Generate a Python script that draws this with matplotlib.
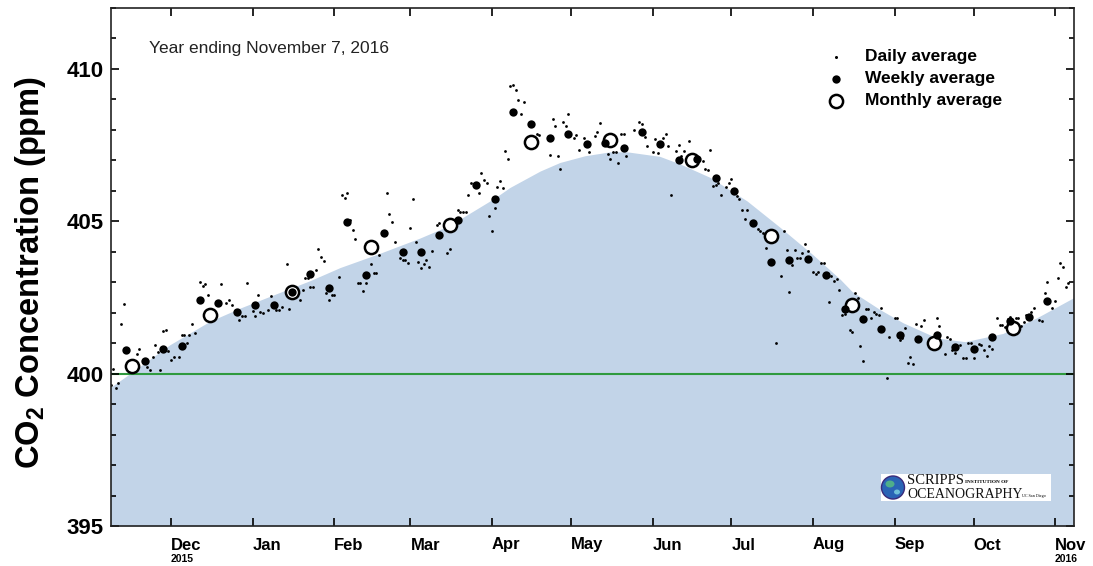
import numpy as np
import matplotlib
matplotlib.use("Agg")
import matplotlib.pyplot as plt
from matplotlib.patches import Rectangle, Ellipse
from matplotlib.lines import Line2D

plt.rcParams["font.family"] = ["Liberation Sans", "DejaVu Sans"]
plt.rcParams["mathtext.fontset"] = "custom"
plt.rcParams["mathtext.rm"] = "Liberation Sans:bold"
plt.rcParams["mathtext.bf"] = "Liberation Sans:bold"

# Time axis: days counted from the start of the plotted year
START = np.datetime64("2015-11-08")
END = np.datetime64("2016-11-08")


def day_of(dates):
    return (np.asarray(dates, dtype="datetime64[D]") - START).astype(float)


# Daily averages (day number since 2015-11-08, ppm)
daily_day = [
    0, 1, 2, 3, 4, 5, 10, 11, 14, 15, 16, 17, 18, 19, 20, 21, 22, 23, 24, 26,
    27, 28, 29, 30, 31, 32, 34, 35, 36, 37, 38, 42, 44, 45, 46, 49, 50, 51, 52, 54,
    55, 56, 57, 58, 60, 61, 63, 64, 65, 67, 68, 72, 73, 74, 75, 76, 77, 78, 79, 80,
    81, 82, 83, 84, 85, 87, 88, 89, 90, 91, 92, 93, 94, 95, 96, 97, 99, 100, 101, 102,
    105, 106, 107, 108, 110, 111, 112, 113, 114, 115, 116, 117, 118, 119, 120, 121, 122, 124, 125, 128,
    129, 132, 133, 134, 135, 136, 137, 140, 141, 142, 143, 144, 145, 146, 147, 148, 149, 150, 151, 152,
    153, 154, 155, 156, 157, 162, 163, 167, 168, 169, 170, 171, 172, 173, 174, 176, 177, 178, 180, 182,
    184, 185, 186, 189, 190, 191, 192, 193, 194, 195, 196, 199, 201, 202, 203, 204, 206, 207, 208, 210,
    211, 212, 213, 215, 216, 217, 218, 220, 225, 226, 227, 228, 229, 230, 231, 232, 234, 235, 236, 238,
    239, 240, 241, 242, 246, 247, 248, 249, 251, 253, 255, 256, 257, 258, 259, 260, 261, 262, 263, 264,
    265, 267, 268, 269, 270, 271, 273, 274, 275, 276, 277, 278, 279, 281, 282, 283, 284, 285, 286, 287,
    288, 289, 290, 291, 292, 293, 295, 296, 298, 299, 300, 301, 302, 303, 304, 305, 306, 308, 309, 312,
    314, 315, 317, 318, 319, 320, 321, 323, 324, 325, 326, 327, 328, 330, 331, 332, 333, 334, 335, 337,
    338, 339, 340, 341, 342, 344, 345, 346, 347, 348, 350, 351, 353, 354, 355, 356, 358, 359, 360, 361,
    362, 363, 364,
]
daily_ppm = [
    399.64, 400.15, 399.54, 399.70, 401.64, 402.30, 400.63, 400.82, 400.22, 400.13,
    400.54, 400.95, 400.70, 400.13, 401.39, 401.42, 400.73, 400.46, 400.55, 400.55,
    401.26, 401.26, 401.01, 401.28, 401.63, 401.34, 403.02, 402.89, 402.93, 402.57,
    402.08, 402.93, 402.33, 402.43, 402.25, 401.75, 401.88, 401.88, 402.99, 402.05,
    401.88, 402.58, 402.02, 402.00, 402.08, 402.55, 402.08, 402.08, 402.18, 403.59,
    402.11, 402.41, 402.74, 403.15, 403.13, 402.85, 402.85, 403.40, 404.10, 403.83,
    403.69, 402.65, 402.41, 402.58, 402.58, 403.18, 405.86, 405.78, 405.94, 405.05,
    404.70, 404.43, 402.99, 402.99, 402.71, 402.99, 403.61, 403.29, 403.31, 403.88,
    405.94, 405.24, 404.98, 404.32, 403.80, 403.72, 403.72, 403.64, 404.79, 405.72,
    404.32, 403.67, 403.48, 403.59, 403.73, 403.51, 404.02, 404.87, 404.96, 403.97,
    404.08, 405.36, 405.31, 405.31, 405.31, 405.86, 406.27, 405.92, 406.58, 406.36,
    406.25, 405.18, 404.68, 405.43, 406.13, 406.33, 406.08, 407.31, 407.04, 409.43,
    409.48, 409.31, 408.98, 408.52, 408.90, 407.86, 407.83, 407.17, 408.36, 408.14,
    407.13, 406.71, 408.25, 408.14, 408.52, 407.75, 407.83, 407.34, 407.75, 407.26,
    407.81, 407.92, 408.22, 407.20, 407.04, 407.26, 407.26, 406.91, 407.86, 407.86,
    407.13, 408.00, 408.25, 408.19, 407.78, 407.48, 407.26, 407.70, 407.23, 407.75,
    407.88, 407.48, 405.87, 407.31, 407.50, 407.13, 407.31, 407.64, 406.98, 406.73,
    406.69, 407.34, 406.16, 406.18, 406.25, 405.87, 406.14, 406.25, 406.40, 405.83,
    405.72, 405.37, 405.07, 405.37, 404.76, 404.68, 404.61, 404.13, 404.46, 401.02,
    403.20, 404.68, 404.06, 402.67, 403.55, 404.06, 403.81, 403.81, 403.95, 404.24,
    404.02, 403.33, 403.26, 403.33, 403.64, 403.62, 402.35, 403.22, 403.04, 403.09,
    402.73, 401.94, 401.97, 401.42, 401.36, 402.65, 402.49, 400.90, 400.43, 402.11,
    402.11, 401.81, 402.02, 401.97, 401.94, 402.16, 399.86, 401.19, 401.81, 401.81,
    401.09, 401.17, 401.50, 400.35, 400.55, 400.33, 401.64, 401.58, 401.75, 401.12,
    401.81, 401.58, 400.66, 401.19, 401.14, 400.76, 400.67, 400.95, 400.51, 400.51,
    401.01, 400.99, 400.51, 400.98, 400.93, 400.79, 400.57, 400.92, 400.81, 401.81,
    401.61, 401.61, 401.54, 401.78, 401.87, 401.81, 401.81, 401.55, 401.69, 401.92,
    402.02, 402.14, 401.75, 401.72, 402.65, 403.02, 402.16, 402.38, 403.15, 403.64,
    403.50, 402.84, 402.99,
]

# Weekly averages, one per week starting 2015-11-14
weekly_first = "2015-11-14"
weekly_ppm = [
    400.76, 400.43, 400.82, 400.92, 402.41, 402.33, 402.02, 402.26, 402.25, 402.69,
    403.28, 402.80, 404.99, 403.23, 404.61, 404.00, 404.00, 404.54, 405.03, 406.18,
    405.72, 408.59, 408.18, 407.72, 407.86, 407.53, 407.57, 407.42, 407.94, 407.53,
    407.02, 407.03, 406.43, 406.00, 404.94, 403.65, 403.72, 403.77, 403.23, 402.12,
    401.78, 401.45, 401.28, 401.14, 401.26, 400.87, 400.82, 401.21, 401.74, 401.85,
    402.39,
]

# Monthly averages (mid-month)
monthly_dates = [
    "2015-11-16", "2015-12-16", "2016-01-16", "2016-02-15", "2016-03-16", "2016-04-16",
    "2016-05-16", "2016-06-16", "2016-07-16", "2016-08-16", "2016-09-16", "2016-10-16",
]
monthly_ppm = [400.24, 401.91, 402.67, 404.17, 404.87, 407.60,
               407.67, 407.02, 404.52, 402.25, 401.00, 401.50]

# Smoothed seasonal curve (day number, ppm)
curve_day = [0, 7.4, 22.6, 37.8, 49.2, 63.3, 75.8, 87.2, 102.4, 117.6, 129, 145.8,
             151.8, 163.3, 170.8, 180.3, 189.8, 196.3, 208.8, 216.5, 227.9, 241.9,
             254.5, 267, 277.3, 281.8, 292.5, 301.2, 314.1, 324.8, 339.2, 352, 366]
curve_ppm = [399.55, 400.0, 400.95, 401.72, 402.15, 402.63, 403.05, 403.48, 403.95,
             404.45, 404.87, 405.75, 406.11, 406.65, 406.93, 407.15, 407.28, 407.28,
             407.13, 406.88, 406.44, 405.67, 404.8, 403.9, 403.1, 402.7, 402.1,
             401.67, 401.17, 401.05, 401.32, 401.83, 402.49]

month_labels = ["Dec", "Jan", "Feb", "Mar", "Apr", "May", "Jun", "Jul", "Aug", "Sep", "Oct", "Nov"]
month_starts = ["2015-12-01", "2016-01-01", "2016-02-01", "2016-03-01", "2016-04-01",
                "2016-05-01", "2016-06-01", "2016-07-01", "2016-08-01", "2016-09-01",
                "2016-10-01", "2016-11-01"]
year_labels = {"Dec": "2015", "Nov": "2016"}

W, H = 1093, 566
fig = plt.figure(figsize=(W / 100, H / 100), dpi=100)
ax_left, ax_right, ax_top, ax_bottom = 110.5, 1073.5, 8, 526
ax = fig.add_axes([ax_left / W, 1 - ax_bottom / H,
                   (ax_right - ax_left) / W, (ax_bottom - ax_top) / H])

x_end = float(day_of(END))
ax.set_xlim(0, x_end)
ax.set_ylim(395, 412)

# Seasonal curve shading and 400 ppm reference line
ax.fill_between(curve_day, 395, curve_ppm, color="#c2d4e8", lw=0, zorder=0)
ax.axhline(400, color="#2f9a3e", lw=1.5, zorder=1)

weekly_day = day_of(np.arange(np.datetime64(weekly_first),
                              np.datetime64(weekly_first) + 7 * len(weekly_ppm), 7))
ax.plot(daily_day, daily_ppm, "o", ms=2.0, color="black", mew=0, zorder=2)
ax.plot(day_of(monthly_dates), monthly_ppm, "o", ms=9.5, mfc="white", mec="black",
        mew=1.8, zorder=3)
ax.plot(weekly_day, weekly_ppm, "o", ms=6.0, color="black", mew=0, zorder=4)

# Axes styling
for s in ax.spines.values():
    s.set_linewidth(1.2)
    s.set_color("#222222")
ax.set_yticks([395, 400, 405, 410])
ax.set_yticks(np.arange(395, 413, 1), minor=True)
ax.set_xticks(day_of(month_starts))
ax.set_xticklabels([])
ax.tick_params(axis="y", which="major", direction="in", length=6, width=1.2,
               left=True, right=True, labelsize=16, pad=5)
ax.tick_params(axis="y", which="minor", direction="in", length=3.5, width=1.2,
               left=True, right=True)
ax.tick_params(axis="x", which="major", direction="in", length=6, width=1.2,
               top=True, bottom=True)
for lab in ax.get_yticklabels():
    lab.set_fontweight("bold")

# Month labels, left-aligned at each month start
for name, d in zip(month_labels, day_of(month_starts)):
    xf = (ax_left + d / x_end * (ax_right - ax_left)) / W
    fig.text(xf, 1 - 545 / H, name, ha="left", va="center", fontsize=12,
             fontweight="bold")
    if name in year_labels:
        fig.text(xf, 1 - 559 / H, year_labels[name], ha="left", va="center",
                 fontsize=7.5, fontweight="bold")

fig.text(31 / W, 1 - 272 / H, r"CO$_\mathbf{2}$ Concentration (ppm)", rotation=90,
         ha="center", va="center", fontsize=23.5, fontweight="bold")

fig.text(149 / W, 1 - 48 / H, "Year ending November 7, 2016", ha="left",
         va="center", fontsize=12.5, color="#222222")

# Legend
leg_x = 836
for y, name, style in [(57, "Daily average", dict(ms=2.2, mfc="black", mec="black", mew=0)),
                       (79, "Weekly average", dict(ms=6.0, mfc="black", mec="black", mew=0)),
                       (101, "Monthly average", dict(ms=9.5, mfc="white", mec="black", mew=1.8))]:
    fig.add_artist(Line2D([leg_x / W], [1 - y / H], marker="o", ls="none",
                          transform=fig.transFigure, **style))
    fig.text(865 / W, 1 - y / H, name, ha="left", va="center", fontsize=12.5,
             fontweight="bold")

# Institution badge
fig.add_artist(Rectangle((881 / W, 1 - 501 / H), 170 / W, 27 / H,
                         transform=fig.transFigure, facecolor="white",
                         edgecolor="none", zorder=5))
fig.add_artist(Ellipse((893 / W, 1 - 487.5 / H), 23 / W, 23 / H, transform=fig.transFigure,
                       facecolor="#2a64b5", edgecolor="#3a2a7a", lw=1.0, zorder=6))
fig.add_artist(Ellipse((890 / W, 1 - 484 / H), 9 / W, 7 / H, transform=fig.transFigure,
                       facecolor="#4fae8a", edgecolor="none", zorder=7))
fig.add_artist(Ellipse((897 / W, 1 - 492 / H), 6 / W, 5 / H, transform=fig.transFigure,
                       facecolor="#6fc0d8", edgecolor="none", zorder=7))
fig.text(907 / W, 1 - 481 / H, "SCRIPPS", fontsize=10.5, family="Liberation Serif",
         ha="left", va="center", zorder=7, color="#111111")
fig.text(965 / W, 1 - 482 / H, "INSTITUTION OF", fontsize=3.8,
         family="Liberation Serif", ha="left", va="center", zorder=7, fontweight="bold")
fig.text(907 / W, 1 - 494 / H, "OCEANOGRAPHY", fontsize=10, family="Liberation Serif",
         ha="left", va="center", zorder=7, color="#111111")
fig.text(1022 / W, 1 - 495.5 / H, "UC San Diego", fontsize=3.0,
         family="Liberation Serif", ha="left", va="center", zorder=7)

fig.savefig("out.png", dpi=100, facecolor="white")
